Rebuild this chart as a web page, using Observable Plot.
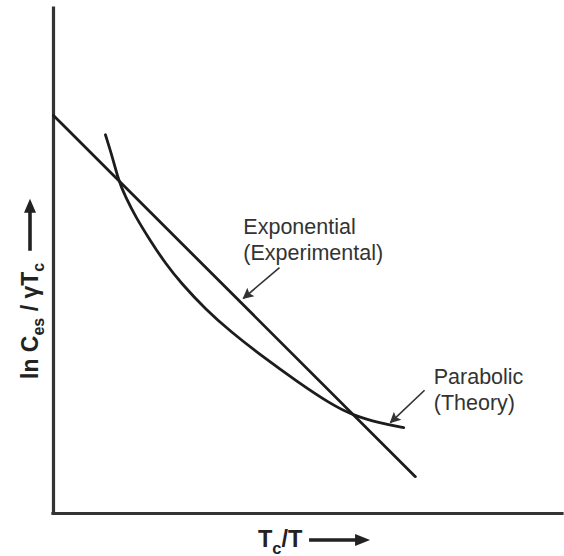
<!DOCTYPE html>
<html><head><meta charset="utf-8">
<script src="https://cdn.jsdelivr.net/npm/d3@7"></script>
<script src="https://cdn.jsdelivr.net/npm/@observablehq/plot@0.6"></script>
<style>body{margin:0;background:#fff} #chart{width:564px;height:556px}</style>
</head><body><div id="chart"></div>
<script>
// Straight line: "Exponential (Experimental)"
const expX = [0, 7.11];
const expY = [7.88, 0.73];
// Curve: "Parabolic (Theory)"
const parX = [1.02, 1.16, 1.28, 1.41, 1.61, 1.91, 2.20, 2.50, 2.99, 3.48, 4.13, 4.79, 5.44, 5.89, 6.42, 6.88];
const parY = [7.50, 7.05, 6.59, 6.28, 5.88, 5.39, 4.95, 4.57, 4.04, 3.60, 3.09, 2.61, 2.17, 1.94, 1.79, 1.70];
// Annotations
const noteText = ["Exponential\n(Experimental)", "Parabolic\n(Theory)"];
const noteX = [3.73, 7.47];
const noteY = [5.90, 2.93];
const arrowX1 = [4.44, 7.29];
const arrowY1 = [4.87, 2.44];
const arrowX2 = [3.73, 6.62];
const arrowY2 = [4.26, 1.80];
// Axis titles
const xTitle = ["T", "c", "/T"];
const yTitle = ["ln C", "es", " / γT", "c"];

const expData = expX.map((x, i) => ({x, y: expY[i]}));
const parData = parX.map((x, i) => ({x, y: parY[i]}));
const notes = noteText.map((t, i) => ({t, x: noteX[i], y: noteY[i]}));
const arrows = arrowX1.map((x1, i) => ({x1, y1: arrowY1[i], x2: arrowX2[i], y2: arrowY2[i]}));

const ink = "#1c1c1c";
const plot = Plot.plot({
  width: 564, height: 556,
  marginLeft: 53, marginRight: 2, marginTop: 8, marginBottom: 43,
  x: {domain: [0, 10], axis: null},
  y: {domain: [0, 10], axis: null},
  style: {fontFamily: "'Liberation Sans', Arial, sans-serif", background: "#fff"},
  marks: [
    Plot.ruleX([0], {stroke: "#333", strokeWidth: 3.2, strokeLinecap: "square"}),
    Plot.ruleY([0], {stroke: "#333", strokeWidth: 3.2, strokeLinecap: "square"}),
    Plot.line(expData, {x: "x", y: "y", stroke: ink, strokeWidth: 2.8}),
    Plot.line(parData, {x: "x", y: "y", curve: "basis", stroke: ink, strokeWidth: 2.8}),
    Plot.link(arrows, {x1: "x1", y1: "y1", x2: "x2", y2: "y2", stroke: "#333", strokeWidth: 1.6}),
    Plot.text(notes, {x: "x", y: "y", text: "t", textAnchor: "start", lineAnchor: "top",
      fontSize: 21.5, lineHeight: 1.21, fill: "#333"})
  ]
});
document.getElementById("chart").appendChild(plot);

const svg = d3.select(plot);
const defs = svg.append("defs");
defs.append("marker").attr("id", "ah").attr("viewBox", "0 0 10 10")
  .attr("refX", 9).attr("refY", 5).attr("markerWidth", 14).attr("markerHeight", 11)
  .attr("markerUnits", "userSpaceOnUse").attr("orient", "auto")
  .append("path").attr("d", "M0,0L10,5L0,10L2,5Z").attr("fill", "#333");
svg.selectAll('g[aria-label="link"] path').attr("marker-end", "url(#ah)");

const sx = plot.scale("x"), sy = plot.scale("y");
const x0 = sx.apply(0), y0 = sy.apply(0);
const font = "'Liberation Sans', Arial, sans-serif";

// X axis title
const xt = svg.append("text").attr("x", x0 + 205).attr("y", y0 + 34).attr("text-anchor", "start")
  .attr("font-family", font).attr("font-weight", "bold").attr("font-size", 23.5).attr("fill", "#222");
xt.append("tspan").text(xTitle[0]);
xt.append("tspan").attr("dy", 7).attr("font-size", 16.5).text(xTitle[1]);
xt.append("tspan").attr("dy", -7).text(xTitle[2]);
const xb = xt.node().getBBox();
const ax = xb.x + xb.width + 6, ay = y0 + 27;
svg.append("path").attr("d", `M${ax},${ay - 1.8}H${ax + 46}V${ay - 6}L${ax + 61},${ay}L${ax + 46},${ay + 6}V${ay + 1.8}H${ax}Z`)
  .attr("fill", "#222");

// Y axis title (rotated)
const yg = svg.append("g").attr("transform", `translate(${x0 - 15},379) rotate(-90)`);
const yt = yg.append("text").attr("x", 0).attr("y", 0).attr("text-anchor", "start")
  .attr("font-family", font).attr("font-weight", "bold").attr("font-size", 23).attr("fill", "#222");
yt.append("tspan").text(yTitle[0]);
yt.append("tspan").attr("dy", 6).attr("font-size", 16).text(yTitle[1]);
yt.append("tspan").attr("dy", -6).text(yTitle[2]);
yt.append("tspan").attr("dy", 6).attr("font-size", 16).text(yTitle[3]);
const yb = yt.node().getBBox();
const bx = yb.x + yb.width + 12, by = -8;
yg.append("path").attr("d", `M${bx},${by - 1.8}H${bx + 38}V${by - 6}L${bx + 52},${by}L${bx + 38},${by + 6}V${by + 1.8}H${bx}Z`)
  .attr("fill", "#222");
</script>
</body></html>
